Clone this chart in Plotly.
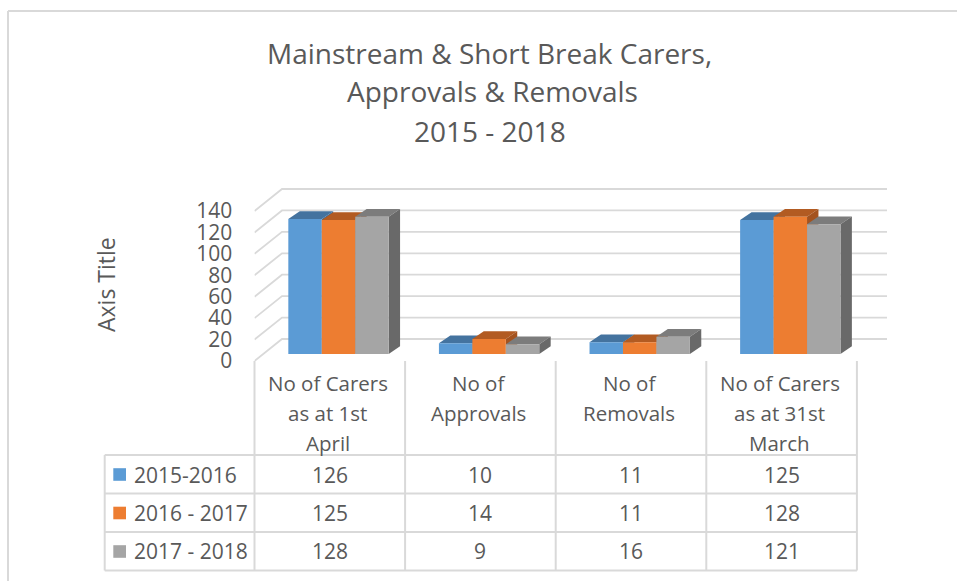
import plotly.graph_objects as go

WIDTH, HEIGHT = 957, 581

categories = ["No of Carers<br>as at 1st<br>April", "No of<br>Approvals", "No of<br>Removals", "No of Carers<br>as at 31st<br>March"]
series_names = ["2015-2016", "2016 - 2017", "2017 - 2018"]
values_2015 = [126, 10, 11, 125]
values_2016 = [125, 14, 11, 128]
values_2017 = [128, 9, 16, 121]
all_values = [values_2015, values_2016, values_2017]
front_colors = ["#5B9BD5", "#ED7D31", "#A5A5A5"]
top_colors = ["#44739F", "#B25B22", "#7C7C7C"]
side_colors = ["#3F6B94", "#A4531F", "#696969"]
y_ticks = [0, 20, 40, 60, 80, 100, 120, 140]
title_lines = ["Mainstream & Short Break Carers,", "Approvals & Removals", "2015 - 2018"]

TEXT = "#595959"
GRID = "#D9D9D9"
FONT = "Open Sans"

# pixel calibration of the axes
X0, CAT_W = 254.5, 150.6
X_END = 887
Y0, PX_PER_UNIT = 361, 150 / 140
Y_TOP = 183
x_range = [0, (X_END - X0) / CAT_W]
y_range = [0, (Y0 - Y_TOP) / PX_PER_UNIT]

# oblique projection of the 3-D box
WALL_DX = 27.5 / CAT_W
WALL_DY = 22 / PX_PER_UNIT
BAR_SHIFT = 8.7 / CAT_W
BAR_BASE = 7 / PX_PER_UNIT
BAR_DX = 11.4 / CAT_W
BAR_DY = 7.8 / PX_PER_UNIT
BAR_W = 33.45 / CAT_W


def px(x):
    return x / WIDTH


def py(y):
    return 1 - y / HEIGHT


fig = go.Figure()

# wall gridlines
for v in y_ticks:
    fig.add_trace(go.Scatter(
        x=[0, WALL_DX, x_range[1]],
        y=[v, v + WALL_DY, v + WALL_DY],
        mode="lines", line=dict(color=GRID, width=1.8),
        hoverinfo="skip", showlegend=False))

# tops and sides, painted from back to front
for c in range(len(categories)):
    for s in range(3):
        v = all_values[s][c]
        left = c + 0.5 + BAR_SHIFT + (s - 1.5) * BAR_W
        right = left + BAR_W
        top = BAR_BASE + v
        fig.add_trace(go.Scatter(
            x=[left, left + BAR_DX, right + BAR_DX, right, left],
            y=[top, top + BAR_DY, top + BAR_DY, top, top],
            mode="lines", fill="toself", fillcolor=top_colors[s],
            line=dict(width=0), hoverinfo="skip", showlegend=False))
        fig.add_trace(go.Scatter(
            x=[right, right + BAR_DX, right + BAR_DX, right, right],
            y=[top, top + BAR_DY, BAR_BASE + BAR_DY, BAR_BASE, top],
            mode="lines", fill="toself", fillcolor=side_colors[s],
            line=dict(width=0), hoverinfo="skip", showlegend=False))

# front faces on an overlaid pair of axes so they stay above the tops and sides
for s in range(3):
    fig.add_trace(go.Bar(
        x=[c + 0.5 + BAR_SHIFT for c in range(len(categories))],
        y=all_values[s],
        base=BAR_BASE,
        name=series_names[s],
        marker=dict(color=front_colors[s], line=dict(width=0)),
        xaxis="x2", yaxis="y2", showlegend=False))

# data table grid
col_x = [X0 + i * CAT_W for i in range(len(categories) + 1)]
row_y = [455, 493.5, 532, 570.5]
table_left = 104.7
shapes = []


def line(x0, y0, x1, y1, color=GRID, width=2):
    shapes.append(dict(type="line", xref="paper", yref="paper",
                       x0=px(x0), y0=py(y0), x1=px(x1), y1=py(y1),
                       line=dict(color=color, width=width)))


for x in col_x:
    line(x, Y0, x, row_y[-1])
for y in row_y:
    line(table_left, y, col_x[-1], y)
line(table_left, row_y[0], table_left, row_y[-1])

# outer chart frame
line(8, 11, WIDTH, 11)
line(8, 11, 8, HEIGHT)

annotations = []


def text(x, y, s, size=21, anchor="center", angle=0):
    annotations.append(dict(
        xref="paper", yref="paper", x=px(x), y=py(y), text=s,
        showarrow=False, xanchor=anchor, yanchor="middle", textangle=angle,
        font=dict(family=FONT, size=size, color=TEXT)))


# title lines
for line_text, tx, ty in zip(title_lines, [489.5, 492.5, 489.5], [53, 91, 131]):
    text(tx, ty, line_text, size=28)

# header rows
header_line_y = [383, 413, 442.5]
for c, label in enumerate(categories):
    cx = X0 + (c + 0.5) * CAT_W - 2
    for j, part in enumerate(label.split("<br>")):
        text(cx, header_line_y[j], part, size=20.5)

# body rows
row_text_y = [474.5, 513, 551]
key_y = [474.5, 513, 551.5]
for s in range(3):
    shapes.append(dict(type="rect", xref="paper", yref="paper",
                       x0=px(113.3), x1=px(126), y0=py(key_y[s] - 6.3), y1=py(key_y[s] + 6.3),
                       fillcolor=front_colors[s], line=dict(width=0)))
    text(131.5, row_text_y[s], series_names[s], anchor="left", size=21)
    for c in range(len(categories)):
        text(X0 + (c + 0.5) * CAT_W, row_text_y[s], str(all_values[s][c]), size=21)

text(106, 285, "Axis Title", size=23, angle=-90)

fig.update_layout(
    width=WIDTH, height=HEIGHT, autosize=False,
    margin=dict(l=0, r=0, t=0, b=0, autoexpand=False),
    paper_bgcolor="white", plot_bgcolor="rgba(0,0,0,0)",
    barmode="group", bargap=1 - 3 * BAR_W, bargroupgap=0,
    showlegend=False,
    xaxis=dict(domain=[px(X0), px(X_END)], range=x_range, visible=False, fixedrange=True),
    yaxis=dict(domain=[py(Y0), py(Y_TOP)], range=y_range, tickvals=y_ticks,
               ticks="outside", ticklen=17, tickcolor="rgba(0,0,0,0)",
               showgrid=False, zeroline=False, showline=False,
               tickfont=dict(family=FONT, size=21, color=TEXT), fixedrange=True),
    xaxis2=dict(domain=[px(X0), px(X_END)], range=x_range, visible=False,
                overlaying="x", anchor="y2", fixedrange=True),
    yaxis2=dict(domain=[py(Y0), py(Y_TOP)], range=y_range, visible=False,
                overlaying="y", anchor="x2", fixedrange=True),
    shapes=shapes, annotations=annotations,
)

fig.write_html("out.html", post_script="document.body.style.margin='0';",
               config={"displayModeBar": False})
